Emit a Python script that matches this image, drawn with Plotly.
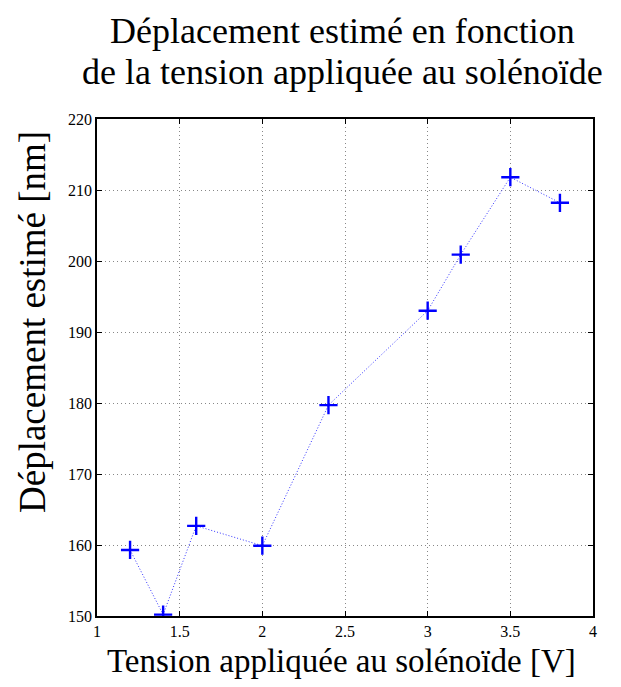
import plotly.graph_objects as go

tension = [1.2, 1.4, 1.6, 2.0, 2.4, 3.0, 3.2, 3.5, 3.8]
deplacement = [159.3, 150.2, 162.7, 159.9, 179.7, 193.0, 200.9, 211.8, 208.2]

x_ticks = [1, 1.5, 2, 2.5, 3, 3.5, 4]
x_tick_labels = ["1", "1.5", "2", "2.5", "3", "3.5", "4"]
y_ticks = [150, 160, 170, 180, 190, 200, 210, 220]

title_lines = ["Déplacement estimé en fonction", "de la tension appliquée au solénoïde"]
x_title = "Tension appliquée au solénoïde [V]"
y_title = "Déplacement estimé [nm]"

serif = "Liberation Serif, Times New Roman, serif"

# The page body has an 8px default margin; figure size/margins compensate for it.
W, H = 605, 671
L, T, R, B = 89, 111, 20, 63
PW, PH = W - L - R, H - T - B

fig = go.Figure()
fig.add_trace(go.Scatter(
    x=tension, y=deplacement, mode="lines+markers",
    line=dict(color="#3333ff", width=1, dash="1px,2px"),
    marker=dict(symbol="cross-thin-open", size=13, color="#0000ff",
                line=dict(color="#0000ff", width=2.4)),
    showlegend=False,
))

axis_common = dict(
    showline=True, linecolor="black", linewidth=1.5, mirror="allticks",
    ticks="inside", ticklen=5, tickcolor="black",
    showgrid=True, gridcolor="#888888", griddash="1px,3px", gridwidth=1,
    zeroline=False, automargin=False,
    tickfont=dict(family=serif, size=16, color="black"),
)

fig.update_layout(
    width=W, height=H,
    margin=dict(l=L, r=R, t=T, b=B),
    plot_bgcolor="white", paper_bgcolor="white",
    xaxis=dict(range=[1, 4], tickvals=x_ticks, ticktext=x_tick_labels, **axis_common),
    yaxis=dict(range=[150, 220], tickvals=y_ticks, **axis_common),
)

def px_x(px):
    return (px - L) / PW

def px_y(py):
    return 1 - (py - T) / PH

for line, ypx in zip(title_lines, [23, 64]):
    fig.add_annotation(
        text=line, xref="paper", yref="paper", x=px_x(334), xanchor="center",
        y=px_y(ypx), yanchor="middle",
        showarrow=False, font=dict(family=serif, size=36, color="black"),
    )

fig.add_annotation(
    text=x_title, xref="paper", yref="paper", x=px_x(333), xanchor="center",
    y=px_y(653), yanchor="middle",
    showarrow=False, font=dict(family=serif, size=33, color="black"),
)
fig.add_annotation(
    text=y_title, xref="paper", yref="paper", x=px_x(24), xanchor="center",
    y=px_y(314), yanchor="middle", textangle=-90,
    showarrow=False, font=dict(family=serif, size=37, color="black"),
)

fig.write_html("out.html")
